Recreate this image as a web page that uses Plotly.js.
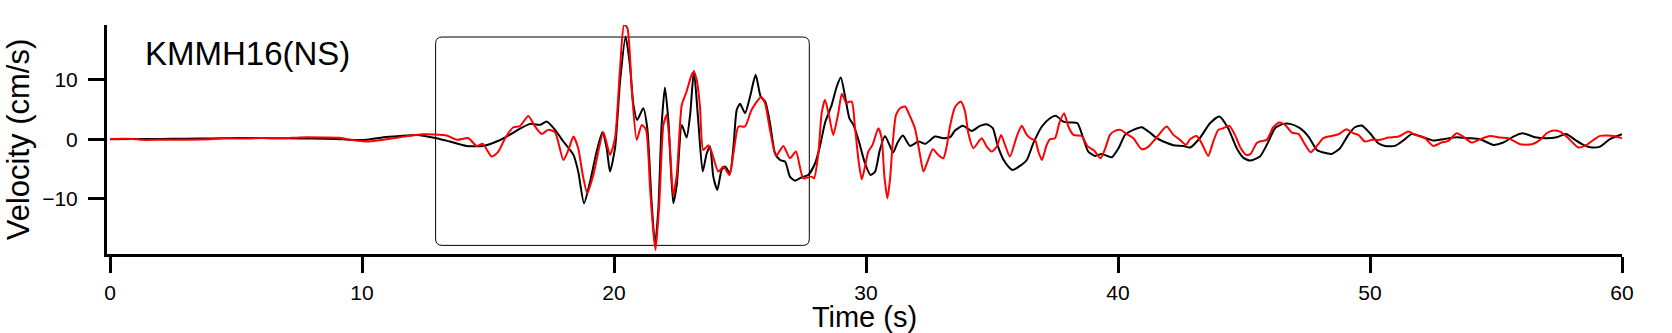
<!DOCTYPE html>
<html>
<head>
<meta charset="utf-8">
<script src="https://cdn.plot.ly/plotly-3.0.1.min.js"></script>
<style>html,body{margin:0;padding:0;background:#fff;}#chart{width:1672px;height:333px;}</style>
</head>
<body>
<div id="chart"></div>
<script>
// ---- data ----
const stationLabel = "KMMH16(NS)";
const xTitle = "Time (s)";
const yTitle = "Velocity (cm/s)";
const xTickVals = [0, 10, 20, 30, 40, 50, 60];
const yTickVals = [-10, 0, 10];

const blackTime = [0,1,2,3,4,5,6,7,8,9,9.5,10.2,10.85,11.5,12.17,12.96,13.49,14.15,14.81,15.34,15.74,16.14,16.67,17.06,17.33,17.66,17.99,18.39,18.58,18.81,19.05,19.31,19.54,19.71,19.84,20.04,20.24,20.46,20.63,20.77,20.92,21.16,21.32,21.49,21.63,21.76,21.89,22.02,22.16,22.35,22.49,22.69,22.88,23.02,23.17,23.34,23.52,23.68,23.81,23.94,24.1,24.27,24.41,24.6,24.74,24.87,25.0,25.2,25.4,25.62,25.82,26.0,26.19,26.39,26.59,26.79,26.98,27.18,27.45,27.71,27.98,28.17,28.37,28.64,28.84,29.0,29.17,29.34,29.5,29.7,29.96,30.18,30.36,30.55,30.75,30.93,31.08,31.24,31.46,31.75,32.08,32.35,32.74,33.07,33.34,33.53,33.84,34.2,34.52,34.79,35.03,35.22,35.45,35.7,35.82,36.11,36.38,36.64,36.98,37.3,37.54,37.83,38.16,38.39,38.6,38.82,39.09,39.35,39.75,40.02,40.28,40.61,40.94,41.21,41.54,41.8,42.2,42.6,42.86,43.25,43.65,44.02,44.37,44.71,44.97,45.24,45.63,45.97,46.23,46.56,46.83,47.22,47.56,47.89,48.15,48.48,48.81,49.14,49.4,49.67,50.0,50.33,50.6,50.99,51.32,51.65,52.12,52.51,52.91,53.44,53.9,54.37,54.89,55.29,55.69,56.06,56.55,57.01,57.41,57.78,58.14,58.47,58.8,59.13,59.52,60.0];
const blackVel = [0,0.02,0.05,0.08,0.12,0.18,0.18,0.15,0.12,0.05,-0.1,-0.1,0.33,0.55,0.72,0.17,-0.39,-1.12,-1.12,-0.39,0.44,1.44,2.56,2.4,2.95,1.56,-0.39,-2.63,-5.42,-10.72,-7.1,-2.07,1.17,-1.51,-5.42,-1.51,9.65,17.19,12.45,5.75,3.23,5.19,1.84,-10.45,-17.7,-11.56,2.39,8.65,2.95,-10.72,-7.65,2.39,0.27,4.07,11.44,3.23,-5.42,-2.35,-1.23,-6.26,-8.49,-5.14,-4.58,-5.7,-1.23,4.91,5.92,4.35,7.14,10.77,7.14,6.3,2.68,-2.35,-3.47,-3.75,-6.26,-6.93,-6.37,-5.98,-4.02,-1.23,2.68,5.75,8.82,10.3,7.14,3.5,2.4,-0.11,-4.02,-5.98,-5.42,-1.79,0.55,-0.95,-2.23,-0.67,0.61,-1.12,-0.39,-0.78,0.44,0.17,0.33,1.44,2.23,1.39,2.23,2.51,1.84,-1.0,-3.4,-4.8,-5.14,-4.47,-3.47,-0.67,2.12,3.51,3.9,2.95,2.79,2.68,0.44,-2.07,-2.8,-2.46,-3.02,-1.51,0.72,1.56,2.0,1.28,0.17,-0.39,-1.0,-1.12,-1.39,0.2,2.68,3.79,1.84,-1.51,-3.08,-3.58,-2.91,-0.39,1.84,2.56,2.56,1.84,0.44,-1.79,-2.23,-2.46,-1.51,0.72,2.0,2.28,0.99,-0.67,-1.12,-1.12,-0.22,0.85,0.33,-0.22,0.0,0.33,0.17,0.0,-0.95,-0.56,0.44,0.99,0.33,0.17,0.33,0.88,-0.11,-0.95,-1.39,-1.23,0.0,0.83];

const redTime = [0,0.9,1.2,2,3,4,4.5,5.5,6,7,7.5,8.5,9.1,9.52,10.3,10.85,11.5,12.43,13.36,13.76,14.22,14.55,14.79,15.15,15.41,15.68,16.01,16.27,16.6,16.87,17.13,17.39,17.66,17.99,18.19,18.39,18.58,18.76,18.94,19.18,19.58,19.84,20.04,20.24,20.4,20.53,20.71,20.9,21.1,21.27,21.43,21.56,21.65,21.8,21.96,22.09,22.22,22.35,22.49,22.69,22.88,23.08,23.17,23.28,23.41,23.54,23.74,23.87,24.14,24.34,24.58,24.74,24.94,25.2,25.46,25.83,25.99,26.19,26.43,26.72,26.98,27.22,27.51,27.84,27.94,28.11,28.24,28.37,28.54,28.7,28.9,29.04,29.21,29.43,29.56,29.7,29.83,29.96,30.09,30.26,30.49,30.62,30.73,30.85,30.95,31.06,31.19,31.35,31.55,31.75,31.94,32.12,32.28,32.44,32.65,32.87,33.07,33.2,33.33,33.53,33.76,33.93,34.06,34.26,34.59,34.79,34.99,35.19,35.36,35.52,35.71,35.98,36.18,36.38,36.58,36.71,36.84,36.98,37.17,37.3,37.5,37.67,37.86,38.03,38.23,38.56,38.78,39.05,39.31,39.52,39.68,39.88,40.1,40.34,40.61,40.94,41.21,41.54,41.93,42.2,42.46,42.7,42.86,43.12,43.32,43.58,43.78,43.98,44.18,44.42,44.64,44.87,45.1,45.26,45.5,45.63,45.9,46.16,46.4,46.63,46.9,47.16,47.43,47.65,47.89,48.15,48.48,48.75,49.07,49.34,49.54,49.8,50.07,50.4,50.73,51.13,51.52,51.79,52.18,52.51,52.84,53.11,53.44,53.7,54.03,54.37,54.76,55.16,55.49,55.95,56.42,56.75,57.01,57.28,57.54,57.87,58.27,58.6,58.84,59.13,59.66,60.0];
const redVel = [0.05,0.05,-0.1,-0.1,-0.08,0.0,0.15,0.1,0.2,0.15,0.3,0.3,0.25,-0.1,-0.39,-0.1,0.33,0.83,0.61,-0.1,0.17,-1.12,-0.78,-2.91,-2.07,0.17,2.0,2.2,3.9,2.1,0.88,1.56,1.17,-3.47,-1.8,0.44,-1.51,-5.98,-9.05,-5.98,1.17,-2.63,0.17,11.89,19.15,18.6,7.98,-0.11,2.39,1.56,-8.21,-15.48,-18.54,-10.45,2.39,4.07,-1.51,-9.33,-5.98,5.75,7.98,10.77,11.3,9.93,5.5,-1.83,-1.0,-2.07,-5.42,-4.58,-5.98,-2.35,2.12,2.12,4.91,7.03,6.03,1.56,-2.8,-1.12,-3.19,-2.07,-6.54,-6.26,-6.54,-2.35,4.35,6.59,3.79,0.72,4.35,7.59,6.14,6.3,2.12,-3.47,-6.7,-4.58,-2.07,-0.95,1.84,0.17,-6.26,-9.88,-6.82,-0.67,4.07,5.19,5.47,3.79,1.84,-2.07,-5.42,-3.75,-1.68,-2.63,-3.19,-1.23,2.12,5.36,6.3,4.63,0.99,-1.51,0.17,-1.23,-2.07,-1.23,0.72,-1.0,-2.91,0.44,2.23,0.72,0.0,-0.11,-2.07,-3.47,-0.95,0.0,0.17,2.68,4.35,2.12,0.72,0.55,-1.12,-1.9,-3.19,-1.23,0.72,1.39,1.56,0.88,0.17,-1.68,-1.23,0.33,2.12,0.72,-0.11,-0.95,0.0,0.55,-0.67,-2.8,-0.39,1.56,1.84,2.23,0.72,-1.51,-2.63,-2.46,-0.67,-0.39,-0.11,2.0,2.79,2.4,1.11,0.88,-0.95,-2.18,-1.12,0.17,0.55,0.83,1.67,0.99,0.72,-0.39,-0.11,-0.11,0.28,0.44,1.28,0.72,0.17,-1.12,-0.56,-0.28,0.99,0.44,-0.56,0.0,0.55,0.28,0.17,-0.84,-0.84,-0.11,0.99,1.44,1.28,0.17,-1.39,-0.95,-0.22,0.55,0.55,0.17];

// highlighted window (data coordinates)
const boxT0 = 12.92, boxT1 = 27.75, boxV0 = -17.76, boxV1 = 17.09;
const boxRx = 0.26, boxRy = 1.1;

function roundedRectPath(x0, x1, y0, y1, rx, ry) {
  return `M ${x0+rx},${y1} L ${x1-rx},${y1} Q ${x1},${y1} ${x1},${y1-ry} ` +
         `L ${x1},${y0+ry} Q ${x1},${y0} ${x1-rx},${y0} ` +
         `L ${x0+rx},${y0} Q ${x0},${y0} ${x0},${y0+ry} ` +
         `L ${x0},${y1-ry} Q ${x0},${y1} ${x0+rx},${y1} Z`;
}

const FONT = "Liberation Sans, Arial, sans-serif";

const traces = [
  {x: blackTime, y: blackVel, type: "scatter", mode: "lines",
   line: {color: "#000000", width: 2, shape: "spline", smoothing: 0.6}, hoverinfo: "skip"},
  {x: redTime, y: redVel, type: "scatter", mode: "lines",
   line: {color: "#ff0000", width: 2, shape: "spline", smoothing: 0.6}, hoverinfo: "skip"}
];

const layout = {
  width: 1672, height: 333,
  margin: {l: 107, r: 50, t: 25, b: 79, pad: 0},
  paper_bgcolor: "#ffffff", plot_bgcolor: "#ffffff",
  showlegend: false,
  font: {family: FONT, color: "#000000", size: 21},
  xaxis: {
    range: [-0.12, 60], tickvals: xTickVals, ticktext: xTickVals.map(String),
    showgrid: false, zeroline: false, showline: true, linecolor: "#000", linewidth: 3,
    ticks: "outside", ticklen: 16, tickwidth: 3, tickcolor: "#000",
    tickfont: {family: FONT, size: 21, color: "#000"}, ticklabelstandoff: 2,
    title: {text: xTitle, font: {family: FONT, size: 29, color: "#000"}, standoff: 4},
    fixedrange: true
  },
  yaxis: {
    range: [-19.2, 19.1], tickvals: yTickVals,
    showgrid: false, zeroline: false, showline: true, linecolor: "#000", linewidth: 3,
    ticks: "outside", ticklen: 16, tickwidth: 3, tickcolor: "#000",
    tickfont: {family: FONT, size: 21, color: "#000"}, ticklabelstandoff: 6,
    title: {text: yTitle, font: {family: FONT, size: 31, color: "#000"}, standoff: 4},
    fixedrange: true
  },
  shapes: [{
    type: "path", xref: "x", yref: "y", layer: "below",
    path: roundedRectPath(boxT0, boxT1, boxV0, boxV1, boxRx, boxRy),
    line: {color: "#000", width: 1}, fillcolor: "rgba(0,0,0,0)"
  }],
  annotations: [{
    text: stationLabel, xref: "x", yref: "y", x: 1.3, y: 14.4,
    xanchor: "left", yanchor: "middle", showarrow: false,
    font: {family: FONT, size: 33, color: "#000"}
  }]
};

Plotly.newPlot("chart", traces, layout, {staticPlot: true, displayModeBar: false});
</script>
</body>
</html>
